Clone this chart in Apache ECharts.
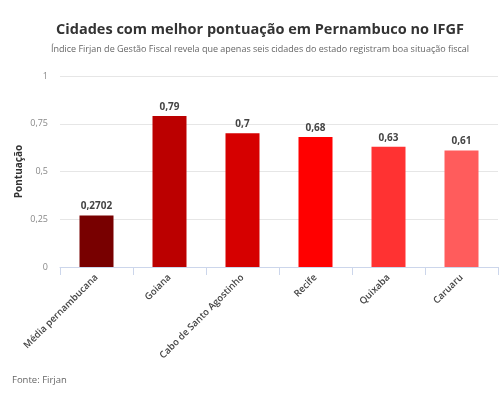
<!DOCTYPE html>
<html>
<head>
<meta charset="utf-8">
<script src="https://cdn.jsdelivr.net/npm/echarts@6/dist/echarts.min.js"></script>
<style>
  html, body { margin: 0; padding: 0; background: #fff; }
  #chart { width: 499px; height: 400px; }
</style>
</head>
<body>
<div id="chart"></div>
<script>
const cities = ['Média pernambucana', 'Goiana', 'Cabo de Santo Agostinho', 'Recife', 'Quixaba', 'Caruaru']
const scores = [0.2702, 0.79, 0.7, 0.68, 0.63, 0.61]
const barColors = ['#780000', '#bb0000', '#d60000', '#ff0000', '#ff3232', '#ff5c5c']
const yTicks = [0, 0.25, 0.5, 0.75, 1]

const fmt = (v) => String(v).replace('.', ',')
const font = '"Open Sans", "Noto Sans", sans-serif'

const chart = echarts.init(document.getElementById('chart'))
chart.setOption({
  textStyle: { fontFamily: font },
  graphic: [
    {
      type: 'text', x: 260, y: 30,
      style: {
        text: 'Cidades com melhor pontuação em Pernambuco no IFGF',
        align: 'center', verticalAlign: 'middle',
        font: 'bold 14.5px ' + font, fill: '#333'
      }
    },
    {
      type: 'text', x: 260, y: 49,
      style: {
        text: 'Índice Firjan de Gestão Fiscal revela que apenas seis cidades do estado registram boa situação fiscal',
        align: 'center', verticalAlign: 'middle',
        font: '9px ' + font, fill: '#666'
      }
    },
    {
      type: 'text', x: 12, y: 380,
      style: {
        text: 'Fonte: Firjan',
        align: 'left', verticalAlign: 'middle',
        font: '9.5px ' + font, fill: '#666'
      }
    }
  ],
  grid: { left: 60, right: 1, top: 76, bottom: 133, containLabel: false },
  xAxis: {
    type: 'category',
    data: cities,
    axisLine: { lineStyle: { color: '#ccd6eb' } },
    axisTick: { show: true, length: 8, lineStyle: { color: '#ccd6eb' } },
    axisLabel: {
      rotate: 45, interval: 0, margin: 9,
      fontSize: 9.5, fontWeight: 600, color: '#444', fontFamily: font
    }
  },
  yAxis: {
    type: 'value',
    min: yTicks[0], max: yTicks[yTicks.length - 1], interval: 0.25,
    name: 'Pontuação',
    nameLocation: 'middle',
    nameGap: 36,
    nameMoveOverlap: false,
    nameTextStyle: { fontSize: 10, fontWeight: 'bold', color: '#333', fontFamily: font },
    axisLine: { show: false },
    axisTick: { show: false },
    splitLine: { lineStyle: { color: '#e6e6e6' } },
    axisLabel: { formatter: fmt, fontSize: 9, color: '#888', margin: 12, fontFamily: font }
  },
  series: [
    {
      type: 'bar',
      barWidth: 34,
      data: scores.map((v, i) => ({ value: v, itemStyle: { color: barColors[i] } })),
      label: {
        show: true, position: 'top', distance: 4,
        formatter: (p) => fmt(p.value),
        fontSize: 10, fontWeight: 'bold', color: '#444', fontFamily: font
      }
    }
  ]
})
</script>
</body>
</html>
